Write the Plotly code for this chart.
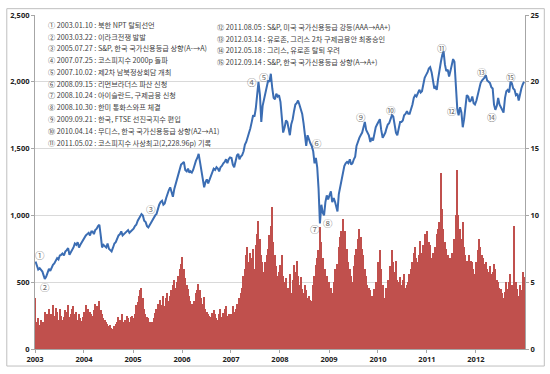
import plotly.graph_objects as go
import pandas as pd

# ---- data (3 observations per month: 5th, 15th, 25th) ----
years = list(range(2003, 2013))
obs_days = [5, 15, 25]
dates = [pd.Timestamp(y, m, d) for y in years for m in range(1, 13) for d in obs_days]

kospi = [
    # 2003
    655, 625, 595, 605, 590, 580, 555, 525, 540, 580, 600, 585, 610, 630, 640, 660, 680, 670,
    700, 705, 715, 700, 730, 740, 755, 705, 720, 740, 760, 790, 780, 800, 760, 780, 800, 810,
    # 2004
    830, 850, 860, 870, 850, 880, 880, 860, 890, 900, 920, 930, 850, 760, 780, 770, 760, 790,
    750, 740, 730, 760, 790, 800, 830, 850, 860, 880, 850, 860, 870, 880, 890, 870, 880, 895,
    # 2005
    900, 920, 930, 960, 980, 1000, 1010, 1000, 960, 950, 920, 910, 930, 940, 960, 980, 1000, 1010,
    1050, 1080, 1100, 1110, 1080, 1090, 1130, 1170, 1190, 1210, 1170, 1140, 1200, 1240, 1280, 1300, 1340, 1380,
    # 2006
    1390, 1400, 1340, 1330, 1350, 1320, 1330, 1320, 1340, 1380, 1410, 1430, 1460, 1400, 1330, 1260, 1210, 1250,
    1270, 1240, 1270, 1290, 1320, 1350, 1340, 1360, 1350, 1330, 1360, 1370, 1390, 1400, 1420, 1390, 1420, 1434,
    # 2007
    1430, 1380, 1360, 1400, 1450, 1460, 1420, 1440, 1450, 1480, 1530, 1550, 1580, 1620, 1650, 1700, 1750, 1740,
    1800, 1900, 2000, 1900, 1700, 1820, 1870, 1920, 1970, 2010, 2000, 2060, 1950, 1880, 1870, 1910, 1890, 1900,
    # 2008
    1850, 1700, 1620, 1660, 1710, 1700, 1650, 1600, 1680, 1720, 1780, 1830, 1840, 1860, 1830, 1800, 1760, 1690,
    1580, 1520, 1600, 1560, 1540, 1520, 1480, 1390, 1430, 1360, 1200, 940, 1080, 1020, 1000, 1100, 1150, 1120,
    # 2009
    1160, 1180, 1100, 1130, 1100, 1060, 1030, 1160, 1210, 1280, 1340, 1370, 1390, 1400, 1390, 1420, 1380, 1390,
    1420, 1440, 1520, 1560, 1580, 1600, 1620, 1660, 1700, 1640, 1620, 1600, 1550, 1580, 1560, 1620, 1660, 1680,
    # 2010
    1700, 1720, 1640, 1580, 1600, 1620, 1650, 1680, 1690, 1720, 1750, 1740, 1680, 1620, 1600, 1660, 1700, 1700,
    1710, 1750, 1760, 1780, 1760, 1760, 1790, 1830, 1880, 1900, 1890, 1910, 1940, 1920, 1930, 1980, 2030, 2050,
    # 2011
    2070, 2100, 2110, 2070, 1990, 1950, 1960, 1940, 2020, 2110, 2150, 2200, 2228, 2130, 2080, 2090, 2040, 2080,
    2120, 2170, 2150, 1940, 1800, 1750, 1810, 1770, 1660, 1720, 1800, 1900, 1890, 1850, 1860, 1890, 1840, 1830,
    # 2012
    1860, 1900, 1960, 1990, 2010, 2020, 2030, 2050, 2010, 2000, 1990, 1960, 1950, 1830, 1790, 1820, 1880, 1830,
    1810, 1800, 1770, 1880, 1930, 1940, 1920, 2000, 1990, 1950, 1940, 1900, 1910, 1860, 1910, 1950, 1980, 2000,
]

volume = [
    # 2003
    3.8, 2.0, 2.3, 1.8, 2.2, 1.6, 2.0, 2.8, 2.4, 2.6, 3.0, 2.3, 2.6, 3.3, 2.5, 3.1, 2.8, 2.2,
    3.0, 2.5, 2.2, 2.4, 2.9, 2.8, 3.3, 2.4, 2.6, 3.0, 3.2, 2.6, 2.8, 2.2, 2.6, 2.3, 2.1, 2.4,
    # 2004
    2.8, 3.3, 3.0, 3.0, 2.8, 2.6, 2.5, 2.9, 3.4, 3.2, 3.0, 3.6, 2.9, 2.6, 2.3, 2.2, 2.0, 1.9,
    1.7, 1.8, 1.6, 1.5, 1.7, 1.9, 2.0, 2.4, 2.2, 2.1, 2.6, 2.0, 2.2, 2.5, 2.3, 2.0, 2.4, 2.5,
    # 2005
    2.3, 2.6, 3.3, 3.5, 4.0, 4.4, 4.6, 3.8, 3.0, 2.6, 2.4, 2.3, 2.0, 1.8, 2.0, 2.3, 2.7, 3.0,
    3.4, 3.0, 3.7, 3.3, 4.0, 3.2, 3.8, 4.2, 3.6, 4.0, 4.4, 4.8, 5.2, 4.6, 5.0, 5.5, 6.0, 6.4,
    # 2006
    6.9, 6.0, 5.3, 4.8, 4.5, 4.0, 3.6, 3.4, 3.2, 3.6, 4.2, 4.4, 4.9, 4.4, 3.8, 3.4, 3.9, 3.0,
    2.8, 2.6, 2.5, 2.4, 2.7, 2.9, 2.6, 2.3, 2.2, 2.6, 3.0, 2.4, 2.7, 3.0, 3.2, 2.5, 2.6, 2.3,
    # 2007
    2.6, 3.2, 2.8, 3.0, 3.4, 3.1, 3.8, 4.2, 4.6, 5.5, 6.0, 7.0, 7.6, 6.5, 7.2, 6.8, 7.5, 6.0,
    7.8, 8.6, 9.6, 8.2, 7.0, 6.5, 5.8, 6.5, 7.0, 7.5, 8.5, 9.2, 10.6, 8.0, 7.0, 6.2, 5.5, 5.8,
    # 2008
    6.3, 7.0, 5.5, 5.0, 5.3, 4.6, 4.6, 5.6, 4.2, 5.2, 6.3, 5.8, 6.6, 5.5, 4.8, 5.4, 4.5, 4.2,
    4.8, 4.4, 3.8, 4.0, 3.7, 3.6, 4.8, 5.5, 6.3, 6.8, 7.4, 9.1, 8.0, 6.8, 5.3, 6.0, 5.5, 4.6,
    # 2009
    5.0, 4.6, 4.2, 5.0, 6.0, 5.5, 6.4, 7.6, 8.4, 8.8, 9.7, 8.5, 8.8, 7.5, 6.5, 6.0, 5.5, 5.0,
    6.2, 7.0, 7.5, 8.2, 9.0, 8.4, 7.5, 7.0, 6.0, 5.5, 4.8, 4.6, 4.4, 4.0, 3.8, 4.5, 5.0, 4.2,
    # 2010
    6.5, 7.4, 6.0, 4.8, 3.8, 3.5, 4.6, 5.2, 5.0, 6.2, 7.4, 6.5, 5.8, 6.6, 5.2, 5.0, 5.4, 4.8,
    5.2, 5.6, 4.6, 4.8, 5.0, 5.6, 6.0, 6.5, 7.2, 7.6, 6.8, 6.5, 7.0, 8.1, 7.2, 7.8, 8.6, 7.2,
    # 2011
    8.8, 8.0, 7.8, 6.8, 7.2, 6.6, 7.6, 8.6, 9.0, 9.5, 13.2, 10.5, 9.0, 8.0, 7.5, 7.0, 6.5, 6.8,
    7.2, 7.0, 8.2, 10.0, 13.4, 10.0, 9.0, 8.2, 9.5, 7.6, 7.0, 6.6, 6.4, 7.0, 6.6, 6.5, 6.0, 5.6,
    # 2012
    6.5, 7.4, 8.2, 7.6, 7.0, 6.8, 6.4, 6.5, 6.0, 5.8, 6.2, 5.6, 5.8, 6.4, 6.0, 5.2, 5.0, 4.6,
    4.5, 4.2, 3.8, 4.3, 5.0, 4.5, 5.0, 5.6, 4.8, 4.6, 9.2, 5.0, 4.5, 4.0, 4.8, 4.4, 5.8, 5.4,
]

left_ticks = [0, 500, 1000, 1500, 2000, 2500]
right_ticks = [0, 5, 10, 15, 20, 25]
year_ticks = [pd.Timestamp(y, 1, 1) for y in years]
year_labels = [str(y) for y in years]

events_left = [
    "① 2003.01.10 : 북한 NPT 탈퇴선언",
    "② 2003.03.22 : 이라크전쟁 발발",
    "③ 2005.07.27 : S&P, 한국 국가신용등급 상향(A-→A)",
    "④ 2007.07.25 : 코스피지수 2000p 돌파",
    "⑤ 2007.10.02 : 제2차 남북정상회담 개최",
    "⑥ 2008.09.15 : 리먼브라더스 파산 신청",
    "⑦ 2008.10.24 : 아이슬란드, 구제금융 신청",
    "⑧ 2008.10.30 : 한미 통화스와프 체결",
    "⑨ 2009.09.21 : 한국, FTSE 선진국지수 편입",
    "⑩ 2010.04.14 : 무디스, 한국 국가신용등급 상향(A2→A1)",
    "⑪ 2011.05.02 : 코스피지수 사상최고(2,228.96p) 기록",
]
events_right = [
    "⑫ 2011.08.05 : S&P, 미국 국가신용등급 강등(AAA→AA+)",
    "⑬ 2012.03.14 : 유로존, 그리스 2차 구제금융안 최종승인",
    "⑭ 2012.05.18 : 그리스, 유로존 탈퇴 우려",
    "⑮ 2012.09.14 : S&P, 한국 국가신용등급 상향(A→A+)",
]

marker_labels = ["①", "②", "③", "④", "⑤", "⑥", "⑦", "⑧", "⑨", "⑩", "⑪", "⑫", "⑬", "⑭", "⑮"]
marker_dates = ["2003-02-06", "2003-03-15", "2005-05-12", "2007-06-10", "2007-09-01",
                "2008-10-04", "2008-09-20", "2008-12-25", "2009-08-25", "2010-04-08",
                "2011-04-20", "2011-07-05", "2012-02-17", "2012-05-01", "2012-09-20"]
marker_values = [700, 466, 1050, 1997, 2034, 1545, 897, 940, 1735, 1786,
                 2252, 1778, 2077, 1735, 2034]

# ---- figure ----
W, H = 550, 374
ML, MR, MT, MB = 32, 23, 10, 21
PW, PH = W - ML - MR, H - MT - MB

def px_x(p):
    return (p - ML) / PW

def px_y(p):
    return (H - MB - p) / PH

KFONT = "Noto Sans CJK KR, Noto Sans, sans-serif"
TFONT = dict(family="Noto Sans, sans-serif", size=7.5, color="#222222", weight="bold")

fig = go.Figure()
fig.add_trace(go.Bar(
    x=dates, y=volume, yaxis="y",
    marker=dict(color="#C0504D", line=dict(width=0)),
    width=10 * 86400000, showlegend=False, hoverinfo="skip",
))
fig.add_trace(go.Scatter(
    x=dates, y=kospi, yaxis="y2", mode="lines",
    line=dict(color="#3B6DB3", width=2),
    showlegend=False, hoverinfo="skip",
))

annotations = []
for i, t in enumerate(events_left):
    annotations.append(dict(
        text=t, xref="paper", yref="paper", x=px_x(43), y=px_y(20 + i * 12.1),
        xanchor="left", yanchor="middle", showarrow=False,
        font=dict(family=KFONT, size=7.2, color="#404040"),
    ))
for i, t in enumerate(events_right):
    annotations.append(dict(
        text=t, xref="paper", yref="paper", x=px_x(214), y=px_y(22.7 + i * 11.8),
        xanchor="left", yanchor="middle", showarrow=False,
        font=dict(family=KFONT, size=7.2, color="#404040"),
    ))
for lab, d, v in zip(marker_labels, marker_dates, marker_values):
    annotations.append(dict(
        text=lab, xref="x", yref="y2", x=d, y=v,
        xanchor="center", yanchor="middle", showarrow=False,
        font=dict(family=KFONT, size=9.5, color="#707070"),
    ))

shapes = [
    # white background box behind event list
    dict(type="rect", xref="paper", yref="paper", layer="between",
         x0=px_x(34), x1=px_x(227), y0=px_y(151), y1=px_y(12),
         fillcolor="white", line=dict(width=0)),
    # chart area border
    dict(type="rect", xref="paper", yref="paper", layer="above",
         x0=px_x(3.5), x1=px_x(546.5), y0=px_y(370.5), y1=px_y(3.5),
         fillcolor="rgba(0,0,0,0)", line=dict(color="#BFBFBF", width=1)),
]

fig.update_layout(
    width=W, height=H,
    margin=dict(l=ML, r=MR, t=MT, b=MB),
    paper_bgcolor="white", plot_bgcolor="white",
    bargap=0,
    hovermode=False,
    xaxis=dict(
        type="date", range=["2003-01-01", "2013-01-01"],
        tickvals=year_ticks, ticktext=year_labels,
        tickfont=TFONT,
        showgrid=False, showline=True, linecolor="#A6A6A6", linewidth=1,
        ticks="outside", ticklen=3, tickcolor="#A6A6A6",
        zeroline=False,
    ),
    yaxis=dict(
        side="right", range=[0, 25], tickvals=right_ticks,
        tickfont=TFONT,
        showgrid=True, gridcolor="#D9D9D9", gridwidth=1,
        showline=True, linecolor="#A6A6A6", linewidth=1,
        ticks="outside", ticklen=3, tickcolor="#A6A6A6",
        zeroline=False,
    ),
    yaxis2=dict(
        overlaying="y", side="left", range=[0, 2500], tickvals=left_ticks,
        tickformat=",d",
        tickfont=TFONT,
        showgrid=False,
        showline=True, linecolor="#A6A6A6", linewidth=1,
        ticks="outside", ticklen=3, tickcolor="#A6A6A6",
        zeroline=False,
    ),
    annotations=annotations,
    shapes=shapes,
)

fig.write_html(
    "out.html",
    config={"displayModeBar": False},
    post_script="document.body.style.margin='0';document.body.style.overflow='hidden';",
)
